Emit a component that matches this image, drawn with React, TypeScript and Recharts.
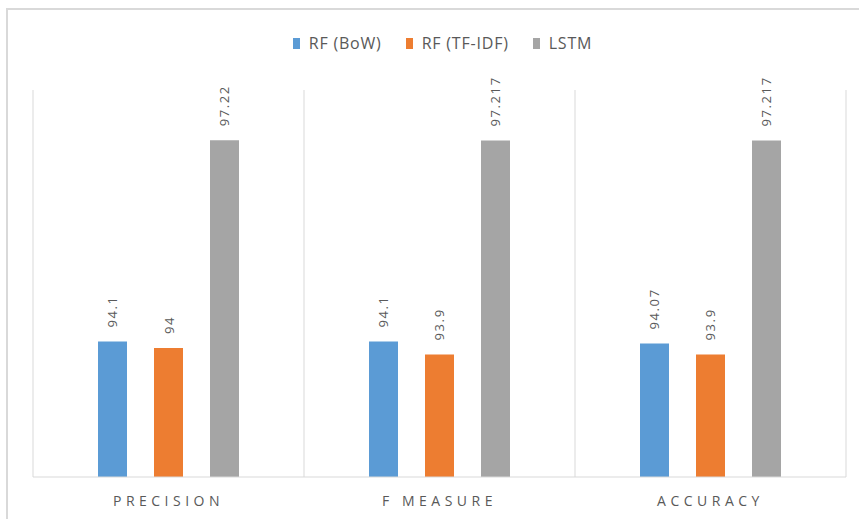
import React from 'react';
import { BarChart, Bar, XAxis, YAxis, CartesianGrid, LabelList } from 'recharts';

const CATEGORIES = ['PRECISION', 'F MEASURE', 'ACCURACY'];
const RF_BOW = [94.1, 94.1, 94.07];
const RF_TFIDF = [94, 93.9, 93.9];
const LSTM = [97.22, 97.217, 97.217];
const SERIES_NAMES = ['RF (BoW)', 'RF (TF-IDF)', 'LSTM'];
const COLORS = ['#5b9bd5', '#ed7d31', '#a5a5a5'];

const data = CATEGORIES.map((name, i) => ({
  name,
  bow: RF_BOW[i],
  tfidf: RF_TFIDF[i],
  lstm: LSTM[i],
}));

const FONT = "'Open Sans', sans-serif";
const TEXT = '#595959';

const ValueLabel = (props: any) => {
  const { x, y, width, value } = props;
  const cx = x + width / 2;
  const ty = y - 14;
  return (
    <text
      x={cx}
      y={ty}
      transform={`rotate(-90 ${cx} ${ty})`}
      textAnchor="start"
      dominantBaseline="central"
      fill={TEXT}
      fontSize={13}
      letterSpacing={1.6}
      fontFamily={FONT}
    >
      {value}
    </text>
  );
};

const CategoryTick = (props: any) => {
  const { x, y, payload } = props;
  return (
    <text
      x={x}
      y={y + 15}
      textAnchor="middle"
      dominantBaseline="central"
      fill={TEXT}
      fontSize={14}
      letterSpacing={4.5}
      fontFamily={FONT}
    >
      {payload.value}
    </text>
  );
};

const ChartLegend = () => (
  <div
    style={{
      position: 'absolute',
      left: 0,
      top: 32,
      width: 885,
      display: 'flex',
      justifyContent: 'center',
      gap: 24,
      fontFamily: FONT,
      fontSize: 16,
      letterSpacing: 0.8,
      color: TEXT,
      lineHeight: '22px',
    }}
  >
    {SERIES_NAMES.map((n, i) => (
      <div key={n} style={{ display: 'flex', alignItems: 'center', gap: 9 }}>
        <div style={{ width: 7, height: 11, background: COLORS[i] }} />
        <span>{n}</span>
      </div>
    ))}
  </div>
);

export default function App() {
  return (
    <div style={{ position: 'absolute', left: 0, top: 0, width: 859, height: 519, overflow: 'hidden', background: '#fff' }}>
      <div
        style={{
          position: 'absolute',
          left: 6,
          top: 8,
          width: 870,
          height: 530,
          border: '2px solid #d9d9d9',
          boxSizing: 'border-box',
        }}
      />
      <ChartLegend />
      <div style={{ position: 'absolute', left: 0, top: 0 }}>
        <BarChart
          width={859}
          height={519}
          data={data}
          margin={{ top: 90, right: 13, left: 33, bottom: 0 }}
          barSize={29}
          barGap={27}
        >
          <CartesianGrid
            horizontal={false}
            stroke="#d9d9d9"
            verticalCoordinatesGenerator={({ offset }: any) =>
              [0, 1, 2, 3].map((i) => offset.left + (offset.width * i) / 3)
            }
          />
          <XAxis
            dataKey="name"
            height={42}
            axisLine={{ stroke: '#d9d9d9' }}
            tickLine={false}
            tick={<CategoryTick />}
          />
          <YAxis hide domain={[92, 98]} />
          <Bar dataKey="bow" name={SERIES_NAMES[0]} fill={COLORS[0]} isAnimationActive={false}>
            <LabelList dataKey="bow" content={<ValueLabel />} />
          </Bar>
          <Bar dataKey="tfidf" name={SERIES_NAMES[1]} fill={COLORS[1]} isAnimationActive={false}>
            <LabelList dataKey="tfidf" content={<ValueLabel />} />
          </Bar>
          <Bar dataKey="lstm" name={SERIES_NAMES[2]} fill={COLORS[2]} isAnimationActive={false}>
            <LabelList dataKey="lstm" content={<ValueLabel />} />
          </Bar>
        </BarChart>
      </div>
    </div>
  );
}
